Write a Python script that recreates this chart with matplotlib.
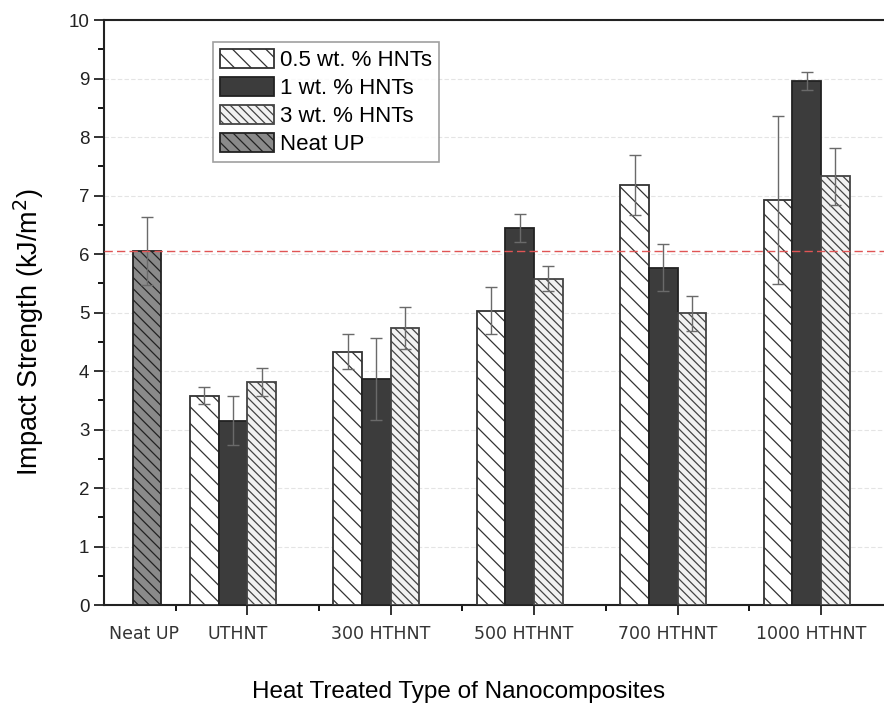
import numpy as np
import matplotlib
matplotlib.use('Agg')
import matplotlib.pyplot as plt
from matplotlib.patches import Patch
from matplotlib.transforms import blended_transform_factory

plt.rcParams['font.family'] = ['Liberation Sans', 'DejaVu Sans']
plt.rcParams['hatch.linewidth'] = 0.9

groups = ['UTHNT', '300 HTHNT', '500 HTHNT', '700 HTHNT', '1000 HTHNT']
hnt_05 = [3.58, 4.33, 5.03, 7.18, 6.92]
hnt_05_err = [0.14, 0.30, 0.40, 0.52, 1.44]
hnt_1 = [3.15, 3.87, 6.44, 5.77, 8.96]
hnt_1_err = [0.42, 0.70, 0.24, 0.40, 0.15]
hnt_3 = [3.81, 4.74, 5.58, 4.99, 7.33]
hnt_3_err = [0.24, 0.36, 0.21, 0.30, 0.49]
neat_up = 6.05
neat_up_err = 0.58

fig = plt.figure(figsize=(8.84, 7.11), dpi=100)
ax = fig.add_axes([0.1176, 0.149, 0.8824, 0.8228])

w = 0.2
centers = np.arange(len(groups)) + 0.9
err_kw = dict(ecolor='#6a6a6a', elinewidth=1.0, capsize=4.5, capthick=1.0)

ax.bar(0.3, neat_up, w, yerr=neat_up_err, color='#8a8a8a', edgecolor='#222222',
       hatch='\\\\\\', linewidth=1.3, error_kw=err_kw, zorder=3)
ax.bar(centers - w, hnt_05, w, yerr=hnt_05_err, color='white', edgecolor='#333333',
       hatch='\\\\', linewidth=1.3, error_kw=err_kw, zorder=3)
ax.bar(centers, hnt_1, w, yerr=hnt_1_err, color='#3c3c3c', edgecolor='#222222',
       linewidth=1.3, error_kw=err_kw, zorder=3)
ax.bar(centers + w, hnt_3, w, yerr=hnt_3_err, color='#f2f2f2', edgecolor='#444444',
       hatch='\\\\\\\\', linewidth=1.3, error_kw=err_kw, zorder=3)

ax.axhline(neat_up, color='#e05555', linestyle=(0, (6, 3)), linewidth=1.0, zorder=4)

ax.set_xlim(0, 5.44)
ax.set_ylim(0, 10)
ax.set_yticks(np.arange(0, 11, 1))
ax.set_yticks(np.arange(0.5, 10, 1), minor=True)
ax.yaxis.grid(True, color='#e4e4e4', linewidth=0.8, linestyle=(0, (4, 2)), zorder=0)

ax.set_xticks(np.arange(1, 6))
ax.set_xticks(np.arange(0.5, 5.5, 1), minor=True)
ax.set_xticklabels([])
ax.tick_params(axis='both', which='major', direction='out', length=7.5, width=1.3,
               labelsize=13.5, colors='#222222', pad=3)
ax.tick_params(axis='both', which='minor', direction='out', length=4, width=1.3)

trans = blended_transform_factory(ax.transData, ax.transAxes)
ax.text(0.28, -0.034, 'Neat UP', transform=trans, ha='center', va='top',
        fontsize=12.5, color='#333333', family=['DejaVu Sans'])
for c, g in zip(centers, groups):
    ax.text(c + 0.03, -0.034, g, transform=trans, ha='center', va='top',
            fontsize=12.5, color='#333333', family=['DejaVu Sans'])

for s in ['left', 'bottom', 'top']:
    ax.spines[s].set_linewidth(1.5)
    ax.spines[s].set_color('#222222')
ax.spines['right'].set_visible(False)

ax.set_ylabel('Impact Strength (kJ/m$^2$)', fontsize=19.5)
ax.yaxis.set_label_coords(-0.074, 0.467)
ax.set_xlabel('Heat Treated Type of Nanocomposites', fontsize=17.5)
ax.xaxis.set_label_coords(0.455, -0.13)

handles = [
    Patch(facecolor='white', edgecolor='#333333', hatch='\\\\', linewidth=1.3),
    Patch(facecolor='#3c3c3c', edgecolor='#222222', linewidth=1.3),
    Patch(facecolor='#f2f2f2', edgecolor='#444444', hatch='\\\\\\\\', linewidth=1.3),
    Patch(facecolor='#8a8a8a', edgecolor='#222222', hatch='\\\\\\', linewidth=1.3),
]
labels = ['0.5 wt. % HNTs', '1 wt. % HNTs', '3 wt. % HNTs', 'Neat UP']
leg = ax.legend(handles, labels, loc='upper left', bbox_to_anchor=(0.14, 0.962),
                fontsize=16, frameon=True, fancybox=False, edgecolor='#888888',
                handlelength=2.45, handleheight=0.95, handletextpad=0.28,
                labelspacing=0.26, borderpad=0.3, borderaxespad=0)
leg.get_frame().set_linewidth(1.2)

fig.savefig('out.png', dpi=100)
